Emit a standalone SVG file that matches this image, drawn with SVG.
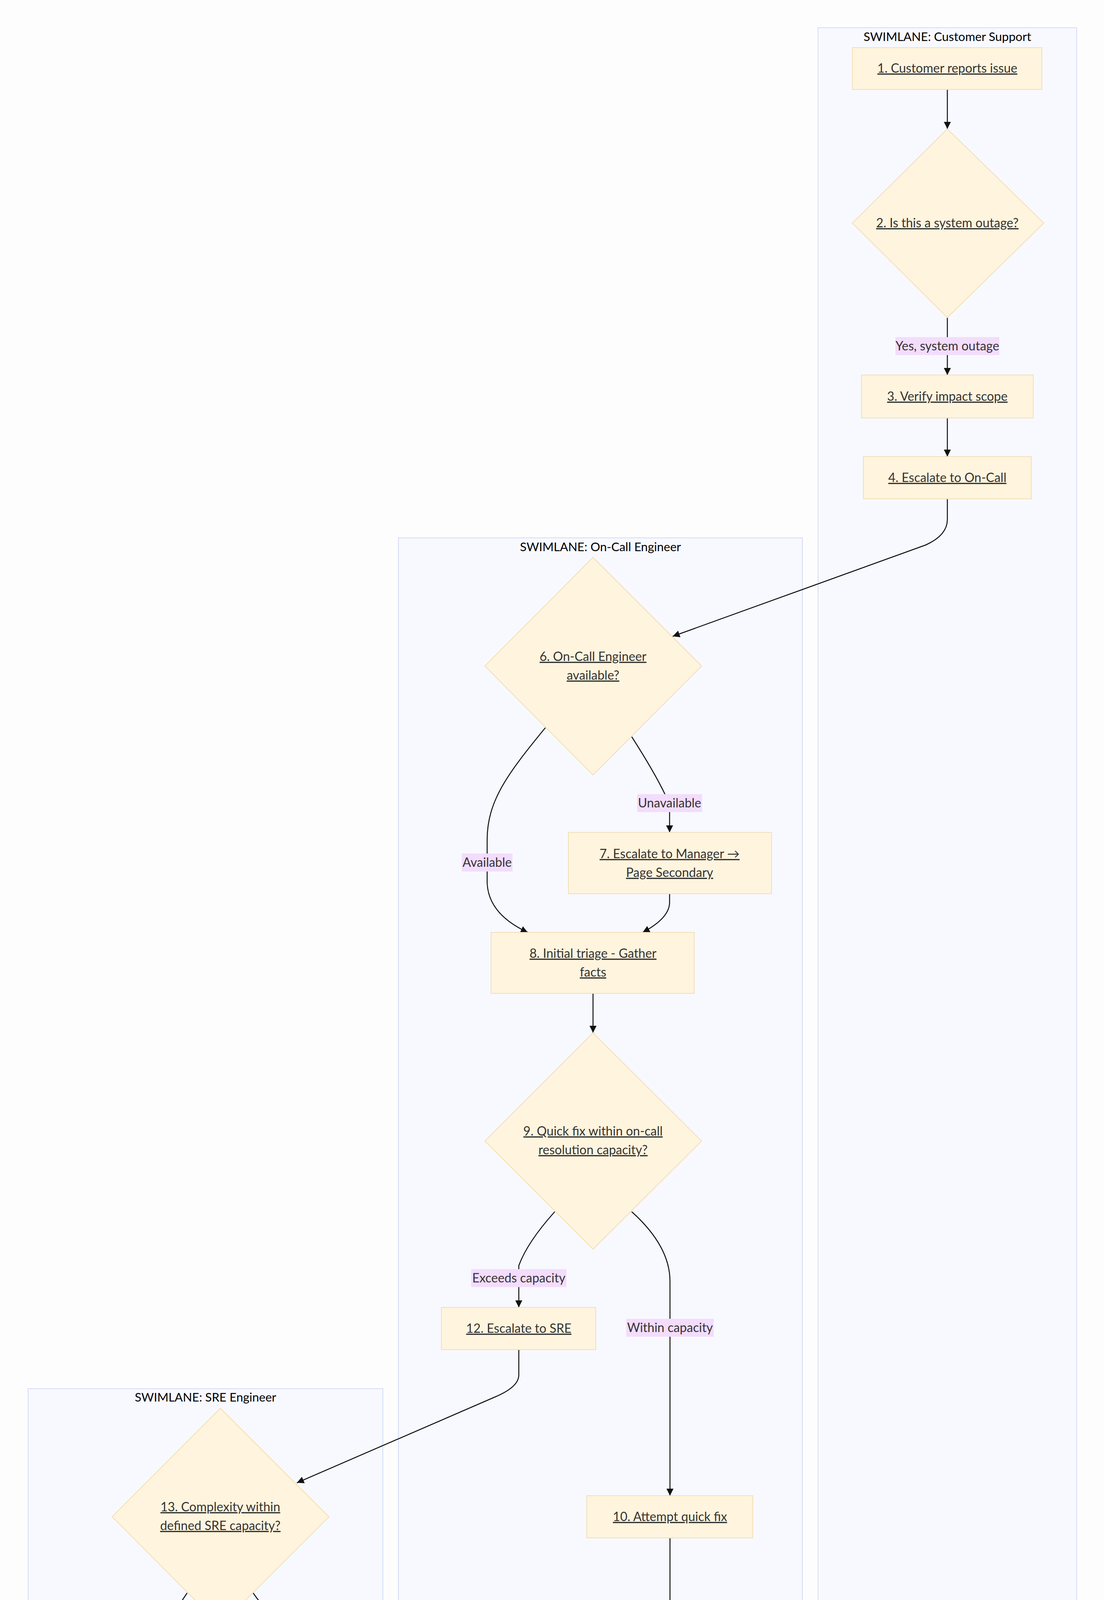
<svg xmlns="http://www.w3.org/2000/svg" width="2826" height="6212" viewBox="0 0 2826 6212">
<style>
.lane{fill:#f8f9ff;stroke:#d4dcf4;stroke-width:2}
.lt{font-family:Lato,"Liberation Sans",sans-serif;font-size:31px;fill:#000;text-anchor:middle}
.n{fill:#fff4dd;stroke:#f0e0b8;stroke-width:2}
.t{font-family:Lato,"Liberation Sans",sans-serif;font-size:32px;fill:#333;text-anchor:middle;text-decoration:underline}
.e{fill:none;stroke:#111;stroke-width:2.5;marker-end:url(#ah)}
.lb{fill:#f3dcfc}
.lx{font-family:Lato,"Liberation Sans",sans-serif;font-size:32px;fill:#333;text-anchor:middle}
</style>
<defs>
<marker id="ah" markerUnits="userSpaceOnUse" markerWidth="20" markerHeight="20" refX="18" refY="9" orient="auto" viewBox="0 0 20 18">
<path d="M0,0 L18,9 L0,18 Z" fill="#111"/>
</marker>
</defs>
<rect width="2826" height="6212" fill="#fdfdfd"/>
<g id="lane-cs"><rect class="lane" x="2094" y="71" width="662" height="4750"/><text class="lt" x="2425" y="105">SWIMLANE: Customer Support</text></g>
<g id="lane-oc"><rect class="lane" x="1020" y="1377" width="1034" height="3139"/><text class="lt" x="1537" y="1411">SWIMLANE: On-Call Engineer</text></g>
<g id="lane-sre"><rect class="lane" x="72" y="3555" width="908" height="1877"/><text class="lt" x="526" y="3588">SWIMLANE: SRE Engineer</text></g>
<g id="lane-pm"><rect class="lane" x="1189" y="4922" width="1316" height="1216"/><text class="lt" x="1847" y="4955">SWIMLANE: Post-Mortem Owner</text></g>

<g id="connectors">
<path class="e" d="M2425,229 L2425,330"/>
<path class="e" d="M2425,813 L2425,960"/>
<path class="e" d="M2425,1070 L2425,1169"/>
<path class="e" d="M2425,1277 L2425,1330 Q2425,1370 2370,1395 L1722,1629"/>
<path class="e" d="M1396,1863 C1300,1980 1247,2050 1247,2150 L1247,2260 Q1250,2340 1351,2387"/>
<path class="e" d="M1617,1886 Q1690,2000 1714,2060 L1714,2131"/>
<path class="e" d="M1714,2288 L1714,2310 Q1714,2350 1645,2387"/>
<path class="e" d="M1518,2543 L1518,2644"/>
<path class="e" d="M1420,3102 Q1350,3180 1328,3240 L1328,3347"/>
<path class="e" d="M1617,3102 Q1715,3190 1715,3280 L1715,3829"/>
<path class="e" d="M1715,3937 L1715,4310"/>
<path class="e" d="M1328,3455 L1328,3520 Q1328,3550 1270,3575 L760,3796"/>
<path class="e" d="M1715,4465 L1715,4475 Q1715,4500 1850,4515 L2350,4570 Q2425,4585 2425,4615"/>
<path class="e" d="M479,4078 Q430,4150 411,4200 L411,4309"/>
<path class="e" d="M648,4078 C690,4140 760,4200 920,4253 L1455,4344"/>
<path class="e" d="M411,4466 L411,4639"/>
<path class="e" d="M411,4747 L411,4971"/>
<path class="e" d="M411,5128 L411,5227"/>
<path class="e" d="M411,5383 L411,5395 Q411,5415 520,5425 L1450,5480 Q1538,5495 1538,5534"/>
<path class="e" d="M2175,5103 L2175,5252"/>
<path class="e" d="M2175,5358 L2175,5734"/>
<g id="edge-labels">
<rect class="lb" x="2292" y="863" width="266" height="46"/><text class="lx" x="2425" y="897">Yes, system outage</text>
<rect class="lb" x="1631" y="2033" width="166" height="46"/><text class="lx" x="1714" y="2067">Unavailable</text>
<rect class="lb" x="1182" y="2185" width="130" height="46"/><text class="lx" x="1247" y="2219">Available</text>
<rect class="lb" x="1206" y="3249" width="244" height="46"/><text class="lx" x="1328" y="3283">Exceeds capacity</text>
<rect class="lb" x="1603" y="3376" width="224" height="46"/><text class="lx" x="1715" y="3410">Within capacity</text>
<rect class="lb" x="1617" y="4210" width="196" height="46"/><text class="lx" x="1715" y="4244">Fix successful</text>
<rect class="lb" x="289" y="4210" width="244" height="46"/><text class="lx" x="411" y="4244">Exceeds capacity</text>
<rect class="lb" x="858" y="4254" width="285" height="46"/><text class="lx" x="1000" y="4288">Within SRE capacity</text>
</g>
</g>

<g id="n1"><rect class="n" x="2182" y="122" width="485" height="107"/><text class="t" x="2425" y="186">1. Customer reports issue</text></g>
<g id="n2"><polygon class="n" points="2425,330 2672,571 2425,813 2182,571"/><text class="t" x="2425" y="582">2. Is this a system outage?</text></g>
<g id="n3"><rect class="n" x="2205" y="960" width="440" height="110"/><text class="t" x="2425" y="1026">3. Verify impact scope</text></g>
<g id="n4"><rect class="n" x="2210" y="1169" width="430" height="108"/><text class="t" x="2425" y="1234">4. Escalate to On-Call</text></g>
<g id="n5"><rect class="n" x="2165" y="4615" width="520" height="156"/><text class="t" x="2425" y="4680">5. Update ticket with </text><text class="t" x="2425" y="4728">resolution status</text></g>
<g id="n6"><polygon class="n" points="1518,1427 1796,1705 1518,1984 1241,1705"/><text class="t" x="1518" y="1692">6. On-Call Engineer </text><text class="t" x="1518" y="1740">available?</text></g>
<g id="n7"><rect class="n" x="1455" y="2131" width="520" height="157"/><text class="t" x="1714" y="2197">7. Escalate to Manager → </text><text class="t" x="1714" y="2245">Page Secondary</text></g>
<g id="n8"><rect class="n" x="1257" y="2387" width="520" height="156"/><text class="t" x="1518" y="2452">8. Initial triage - Gather </text><text class="t" x="1518" y="2500">facts</text></g>
<g id="n9"><polygon class="n" points="1518,2644 1796,2921 1518,3198 1241,2921"/><text class="t" x="1518" y="2907">9. Quick fix within on-call </text><text class="t" x="1518" y="2955">resolution capacity?</text></g>
<g id="n10"><rect class="n" x="1502" y="3829" width="425" height="108"/><text class="t" x="1715" y="3894">10. Attempt quick fix</text></g>
<g id="n11"><rect class="n" x="1455" y="4310" width="520" height="155"/><text class="t" x="1715" y="4375">11. Notify Customer </text><text class="t" x="1715" y="4423">Support of resolution</text></g>
<g id="n12"><rect class="n" x="1130" y="3347" width="395" height="108"/><text class="t" x="1328" y="3412">12. Escalate to SRE</text></g>
<g id="n13"><polygon class="n" points="564,3605 842,3883 564,4161 287,3883"/><text class="t" x="564" y="3869">13. Complexity within </text><text class="t" x="564" y="3917">defined SRE capacity?</text></g>
<g id="n14"><rect class="n" x="151" y="4309" width="521" height="157"/><text class="t" x="411" y="4375">14. Take ownership &amp; deep </text><text class="t" x="411" y="4423">diagnosis</text></g>
<g id="n15"><rect class="n" x="223" y="4639" width="376" height="108"/><text class="t" x="411" y="4704">15. Implement fix</text></g>
<g id="n16"><rect class="n" x="151" y="4971" width="521" height="157"/><text class="t" x="411" y="5037">16. Verify service </text><text class="t" x="411" y="5085">restoration</text></g>
<g id="n17"><rect class="n" x="151" y="5227" width="521" height="156"/><text class="t" x="411" y="5292">17. Close incident &amp; notify </text><text class="t" x="411" y="5340">stakeholders</text></g>
<g id="n18"><polygon class="n" points="1538,5534 1816,5812 1538,6089 1260,5812"/><text class="t" x="1538" y="5797">18. Incident meets post-</text><text class="t" x="1538" y="5845">mortem criteria?</text></g>
<g id="n19"><rect class="n" x="1926" y="4995" width="498" height="108"/><text class="t" x="2175" y="5060">19. Schedule post-mortem</text></g>
<g id="n20"><rect class="n" x="1946" y="5252" width="459" height="106"/><text class="t" x="2175" y="5316">20. Access incident logs</text></g>
<g id="n21"><rect class="n" x="1915" y="5734" width="520" height="155"/><text class="t" x="2175" y="5799">21. Draft and distribute </text><text class="t" x="2175" y="5847">report</text></g>
</svg>
